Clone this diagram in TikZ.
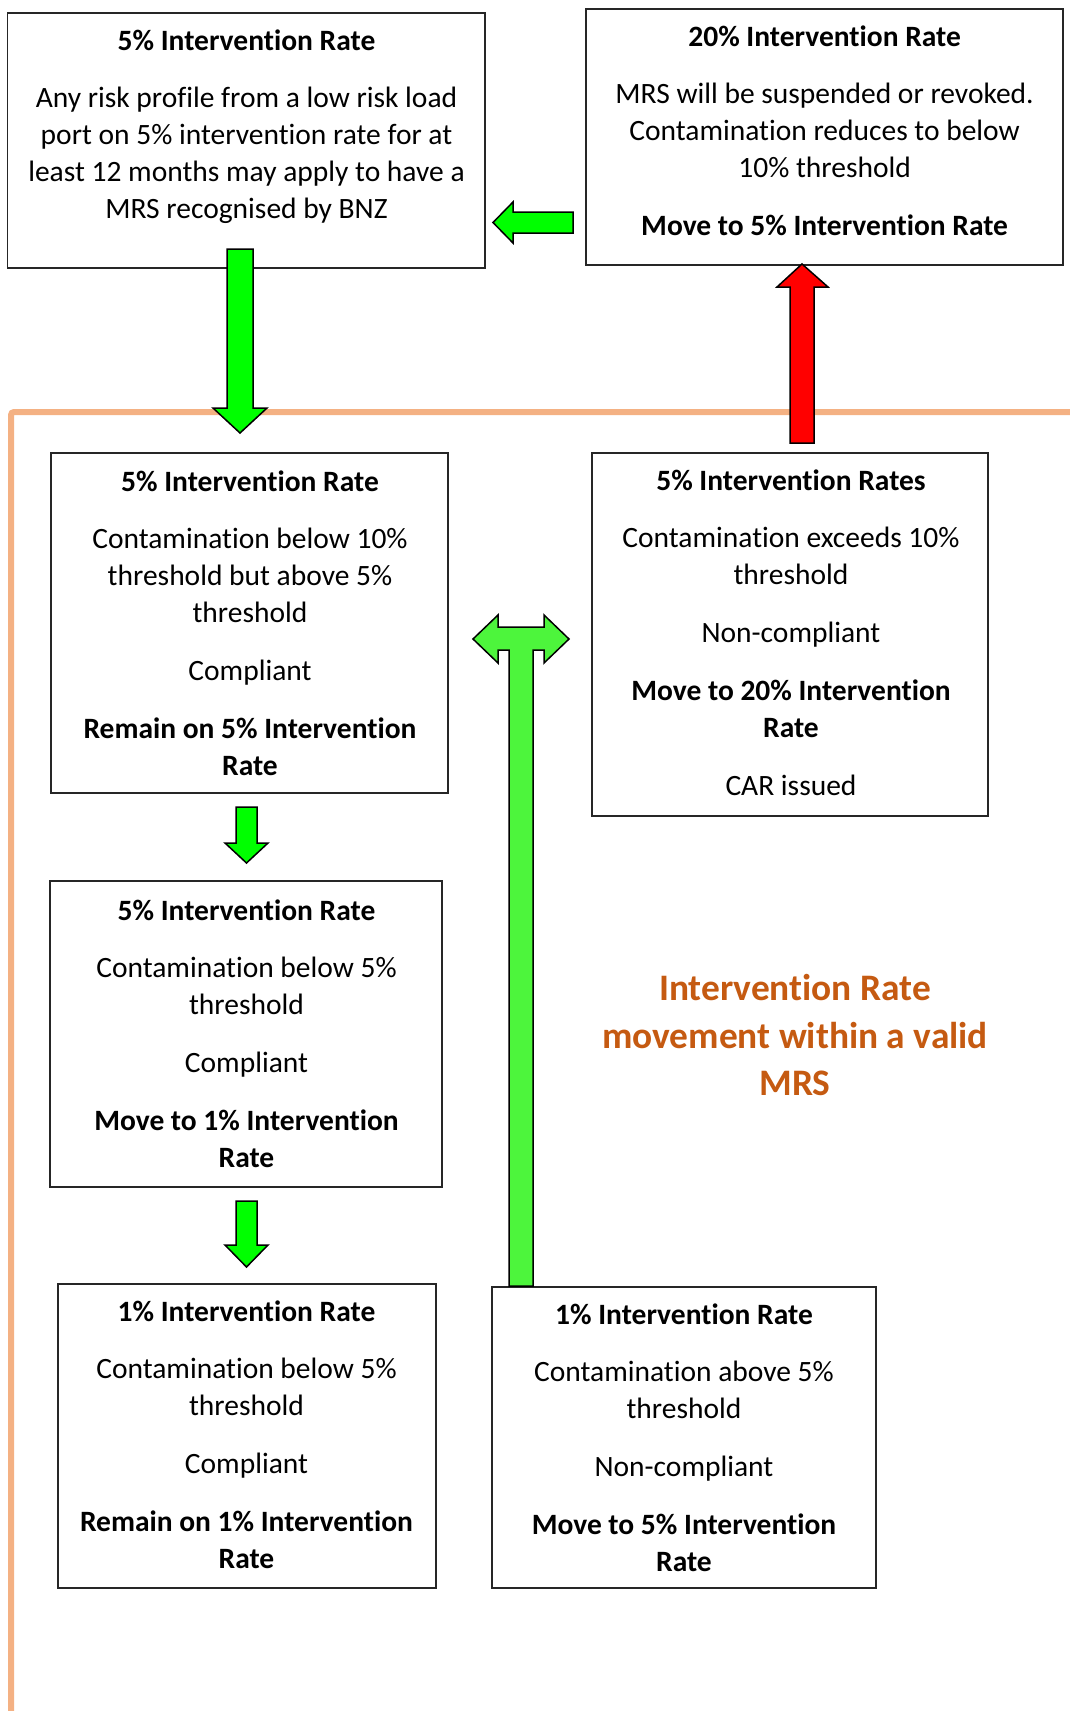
\documentclass[tikz,border=0pt]{standalone}
\usepackage{fontspec}
\setmainfont{Carlito}[Ligatures={NoCommon}]
\definecolor{agreen}{HTML}{00FF00}
\definecolor{tgreen}{HTML}{4DF53C}
\definecolor{ared}{HTML}{FF0000}
\definecolor{oline}{HTML}{F4B183}
\definecolor{otext}{HTML}{C55A11}
\newcommand\boxtitle[1]{{\fontsize{29.5}{37}\selectfont\bfseries #1}}
\begin{document}
\begin{tikzpicture}[x=1pt,y=-1pt,
  box/.style={draw=black!85, line width=1.3pt, rectangle, inner sep=0pt},
  txt/.style={align=center, inner sep=0pt, font=\fontsize{29.5}{37}\selectfont},
  blockarrow/.style={draw=black, line width=1.5pt, line join=miter},
  note/.style={align=center, inner sep=0pt, text=otext, font=\fontsize{37.4}{47.5}\selectfont\bfseries}
]
\useasboundingbox (0,0) rectangle (1070,1711);

% orange frame of the valid MRS region
\draw[oline, line width=6pt, rounded corners=3pt] (11,1711) -- (11,412) -- (1070,412);

% boxes
\node[box, minimum width=477.4pt, minimum height=255pt] (A) at (246.3,140.5) {};
\node[box, minimum width=477pt, minimum height=256pt] (B) at (824.5,137) {};
\node[box, minimum width=397pt, minimum height=340pt] (C) at (249.5,623) {};
\node[box, minimum width=396pt, minimum height=363pt] (D) at (790,634.5) {};
\node[box, minimum width=392pt, minimum height=306pt] (E) at (246,1034) {};
\node[box, minimum width=378pt, minimum height=304pt] (G) at (247,1436) {};
\node[box, minimum width=384pt, minimum height=301pt] (F) at (684,1437.5) {};

% texts
\node[txt] (At) at (246.5,127) {\boxtitle{5\% Intervention Rate}\\[20pt]
Any risk profile from a low risk load\\ port on 5\% intervention rate for at\\ least 12 months may apply to have a\\ MRS recognised by BNZ};
\node[txt] (Bt) at (824.6,131) {\boxtitle{20\% Intervention Rate}\\[20pt]
MRS will be suspended or revoked.\\ Contamination reduces to below\\ 10\% threshold\\[21pt]
\boxtitle{Move to 5\% Intervention Rate}};
\node[txt] (Ct) at (250,623) {\boxtitle{5\% Intervention Rate}\\[20pt]
Contamination below 10\%\\ threshold but above 5\%\\ threshold\\[21pt]
Compliant\\[21pt]
\boxtitle{Remain on 5\% Intervention}\\ \boxtitle{Rate}};
\node[txt] (Dt) at (791,633) {\boxtitle{5\% Intervention Rates}\\[20pt]
Contamination exceeds 10\%\\ threshold\\[21pt]
Non-compliant\\[21pt]
\boxtitle{Move to 20\% Intervention}\\ \boxtitle{Rate}\\[21pt]
CAR issued};
\node[txt] (Et) at (246.5,1034) {\boxtitle{5\% Intervention Rate}\\[20pt]
Contamination below 5\%\\ threshold\\[21pt]
Compliant\\[21pt]
\boxtitle{Move to 1\% Intervention}\\ \boxtitle{Rate}};
\node[txt] (Gt) at (246.5,1435) {\boxtitle{1\% Intervention Rate}\\[20pt]
Contamination below 5\%\\ threshold\\[21pt]
Compliant\\[21pt]
\boxtitle{Remain on 1\% Intervention}\\ \boxtitle{Rate}};
\node[txt] (Ft) at (684,1438) {\boxtitle{1\% Intervention Rate}\\[20pt]
Contamination above 5\%\\ threshold\\[21pt]
Non-compliant\\[21pt]
\boxtitle{Move to 5\% Intervention}\\ \boxtitle{Rate}};

\node[note] (N) at (795,1035) {Intervention Rate\\ movement within a valid\\ MRS};

% block arrows
% B -> A (left)
\draw[blockarrow, fill=agreen] (573,212) -- (513,212) -- (513,202) -- (493,222.5) -- (513,243) -- (513,233) -- (573,233) -- cycle;
% A -> down into MRS region
\draw[blockarrow, fill=agreen] (227,249) -- (253,249) -- (253,408) -- (267,408) -- (240,433) -- (213,408) -- (227,408) -- cycle;
% D -> B (red, up)
\draw[blockarrow, fill=ared] (790,443) -- (790,287) -- (777,287) -- (802,264) -- (828,287) -- (814,287) -- (814,443) -- cycle;
% C -> E
\draw[blockarrow, fill=agreen] (236,807) -- (257,807) -- (257,843) -- (268,843) -- (246.5,863) -- (225,843) -- (236,843) -- cycle;
% E -> G
\draw[blockarrow, fill=agreen] (236,1201) -- (257,1201) -- (257,1245) -- (268,1245) -- (246.5,1267) -- (225,1245) -- (236,1245) -- cycle;
% F -> C / D (T arrow)
\draw[blockarrow, fill=tgreen] (509,1286) -- (509,650) -- (498,650) -- (498,663) -- (473,639) -- (498,615) -- (498,627) -- (544,627) -- (544,615) -- (569,639) -- (544,663) -- (544,650) -- (533,650) -- (533,1286) -- cycle;
\end{tikzpicture}
\end{document}
